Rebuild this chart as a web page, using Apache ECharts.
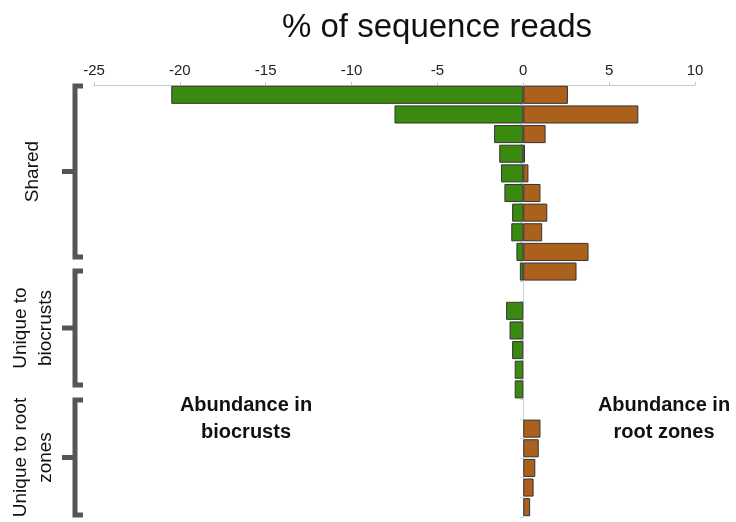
<!DOCTYPE html>
<html>
<head>
<meta charset="utf-8">
<style>
  html, body { margin: 0; padding: 0; background: #fff; }
  #chart { width: 736px; height: 522px; }
</style>
<script src="https://cdn.jsdelivr.net/npm/echarts@6/dist/echarts.min.js"></script>
</head>
<body>
<div id="chart"></div>
<script>
// Taxa rows (top to bottom); blank entries are spacer rows between groups
const categories = [
  'S1', 'S2', 'S3', 'S4', 'S5', 'S6', 'S7', 'S8', 'S9', 'S10',
  '',
  'B1', 'B2', 'B3', 'B4', 'B5',
  ' ',
  'R1', 'R2', 'R3', 'R4', 'R5'
];

// % of sequence reads in biocrusts (plotted to the left, negative)
const biocrustValues = [
  -20.5, -7.5, -1.7, -1.4, -1.3, -1.1, -0.65, -0.7, -0.4, -0.2,
  null,
  -1.0, -0.8, -0.65, -0.5, -0.5,
  null,
  null, null, null, null, null
];

// % of sequence reads in root zones (plotted to the right, positive)
const rootZoneValues = [
  2.6, 6.7, 1.3, 0.1, 0.3, 1.0, 1.4, 1.1, 3.8, 3.1,
  null,
  null, null, null, null, null,
  null,
  1.0, 0.9, 0.7, 0.6, 0.4
];

const xTicks = { min: -25, max: 10, interval: 5 };

const GREEN = '#3a8a10';
const BROWN = '#ab611b';
const BRACKET = '#555555';
const FONT = '"Liberation Sans", Arial, sans-serif';

const chart = echarts.init(document.getElementById('chart'), null, { renderer: 'canvas' });

// Square group brackets on the left, with a prong pointing at the label
function bracket(top, bottom) {
  return {
    type: 'polyline',
    shape: { points: [[83, top], [75, top], [75, bottom], [83, bottom]] },
    style: { stroke: BRACKET, lineWidth: 5, fill: null, lineJoin: 'miter' },
    silent: true
  };
}
function prong(top, bottom) {
  const mid = (top + bottom) / 2;
  return {
    type: 'line',
    shape: { x1: 75, y1: mid, x2: 62, y2: mid },
    style: { stroke: BRACKET, lineWidth: 5 },
    silent: true
  };
}
function groupLabel(text, x, y) {
  return {
    type: 'text',
    x: x, y: y,
    rotation: Math.PI / 2,
    style: {
      text: text,
      font: '19px ' + FONT,
      fill: '#111',
      align: 'center',
      verticalAlign: 'middle',
      lineHeight: 25
    },
    silent: true
  };
}

const groups = [
  { label: 'Shared', top: 86, bottom: 257, lx: 33 },
  { label: 'Unique to\nbiocrusts', top: 271, bottom: 385, lx: 33 },
  { label: 'Unique to root\nzones', top: 400, bottom: 515, lx: 33 }
];

const graphics = [];
groups.forEach(g => {
  graphics.push(bracket(g.top, g.bottom));
  graphics.push(prong(g.top, g.bottom));
  graphics.push(groupLabel(g.label, g.lx, (g.top + g.bottom) / 2));
});
graphics.push({
  type: 'text', x: 246, y: 419,
  style: { text: 'Abundance in\nbiocrusts', font: 'bold 20px ' + FONT, fill: '#111',
           align: 'center', verticalAlign: 'middle', lineHeight: 27 },
  silent: true
});
graphics.push({
  type: 'text', x: 664, y: 419,
  style: { text: 'Abundance in\nroot zones', font: 'bold 20px ' + FONT, fill: '#111',
           align: 'center', verticalAlign: 'middle', lineHeight: 27 },
  silent: true
});

const option = {
  animation: false,
  backgroundColor: '#fff',
  title: {
    text: '% of sequence reads',
    left: 432,
    textAlign: 'center',
    top: 6,
    textStyle: { fontFamily: FONT, fontSize: 33, fontWeight: 'normal', color: '#111' }
  },
  grid: { left: 94, right: 41, top: 85, bottom: 5, containLabel: false },
  xAxis: {
    type: 'value',
    position: 'top',
    min: xTicks.min,
    max: xTicks.max,
    interval: xTicks.interval,
    axisLine: { show: true, lineStyle: { color: '#c8c8c8', width: 1 } },
    axisTick: { show: true, length: 3, lineStyle: { color: '#c8c8c8' } },
    axisLabel: { color: '#222', fontSize: 15, fontFamily: FONT, margin: 7 },
    splitLine: { show: false }
  },
  yAxis: {
    type: 'category',
    data: categories,
    inverse: true,
    axisLine: { show: true, onZero: true, lineStyle: { color: '#cfcfcf', width: 1 } },
    axisTick: { show: true, length: 3, lineStyle: { color: '#cfcfcf' } },
    axisLabel: { show: false },
    splitLine: { show: false }
  },
  series: [
    {
      name: 'Biocrusts',
      type: 'bar',
      stack: 'reads',
      data: biocrustValues,
      barCategoryGap: '8%',
      itemStyle: { color: GREEN, borderColor: '#333333', borderWidth: 1 }
    },
    {
      name: 'Root zones',
      type: 'bar',
      stack: 'reads',
      data: rootZoneValues,
      barCategoryGap: '8%',
      itemStyle: { color: BROWN, borderColor: '#333333', borderWidth: 1 }
    }
  ],
  graphic: graphics
};

chart.setOption(option);
</script>
</body>
</html>
